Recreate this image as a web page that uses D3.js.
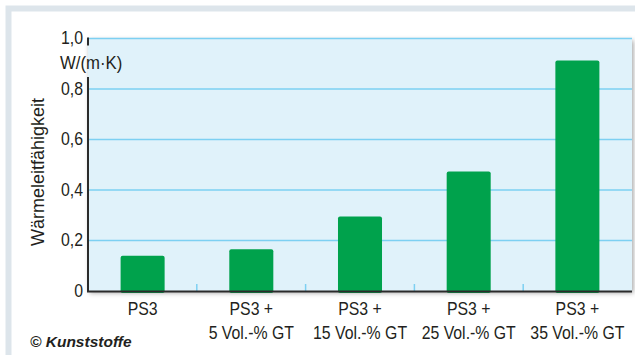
<!DOCTYPE html>
<html>
<head>
<meta charset="utf-8">
<script src="https://cdn.jsdelivr.net/npm/d3@7"></script>
<style>
  html, body { margin: 0; padding: 0; background: #fff; }
  svg { display: block; }
  text { font-family: "Liberation Sans", sans-serif; fill: #231f20; }
</style>
</head>
<body>
<svg id="chart" width="635" height="355"></svg>
<script>
// Thermal conductivity of PS3 with increasing filler content
const categories = [
  ["PS3"],
  ["PS3 +", "5 Vol.-% GT"],
  ["PS3 +", "15 Vol.-% GT"],
  ["PS3 +", "25 Vol.-% GT"],
  ["PS3 +", "35 Vol.-% GT"]
];
const values = [0.14, 0.165, 0.295, 0.473, 0.913];
const yTicks = [0, 0.2, 0.4, 0.6, 0.8, 1.0];
const yTickLabels = ["0", "0,2", "0,4", "0,6", "0,8", "1,0"];
const yUnit = "W/(m·K)";
const yTitle = "Wärmeleitfähigkeit";
const credit = "© Kunststoffe";

const svg = d3.select("#chart");
const W = 635, H = 355;
const plot = { left: 88, right: 632, top: 38.5, bottom: 291 };
const narrow = 0.88; // horizontal squeeze for a condensed look

// soft shadow around the plot panel
const defs = svg.append("defs");
const f = defs.append("filter").attr("id", "shadow")
  .attr("x", "-5%").attr("y", "-10%").attr("width", "110%").attr("height", "120%");
f.append("feDropShadow").attr("dx", 1.5).attr("dy", 2).attr("stdDeviation", 2.5)
  .attr("flood-color", "#000").attr("flood-opacity", 0.35);

// page frame
svg.append("rect").attr("width", W).attr("height", H).attr("fill", "#fff");
svg.append("rect").attr("x", 8.5).attr("y", 8.5).attr("width", W + 20).attr("height", H + 20)
  .attr("fill", "none").attr("stroke", "#dde5eb").attr("stroke-width", 6);

const x = d3.scaleBand()
  .domain(d3.range(categories.length))
  .range([plot.left, plot.right])
  .paddingInner(0.595)
  .paddingOuter(0.3);

const y = d3.scaleLinear().domain([0, 1]).range([plot.bottom, plot.top]);

// panel
svg.append("rect")
  .attr("x", plot.left).attr("y", plot.top)
  .attr("width", plot.right - plot.left).attr("height", plot.bottom - plot.top)
  .attr("fill", "#e0f2fa").attr("filter", "url(#shadow)");

// gridlines
svg.append("g").selectAll("line").data(yTicks.filter(d => d > 0)).join("line")
  .attr("x1", plot.left).attr("x2", plot.right)
  .attr("y1", d => y(d)).attr("y2", d => y(d))
  .attr("stroke", "#7dd0f2").attr("stroke-width", 1.5);

// category separators on the baseline
const sep = i => plot.left + i * (plot.right - plot.left) / categories.length;
svg.append("g").selectAll("line").data(d3.range(1, categories.length)).join("line")
  .attr("x1", sep).attr("x2", sep)
  .attr("y1", plot.bottom - 7).attr("y2", plot.bottom)
  .attr("stroke", "#7dd0f2").attr("stroke-width", 1.5);

// bars
svg.append("g").selectAll("rect").data(values).join("rect")
  .attr("x", (d, i) => x(i))
  .attr("y", d => y(d))
  .attr("width", x.bandwidth())
  .attr("height", d => y(0) - y(d) + 2)
  .attr("rx", 2)
  .attr("fill", "#00a24c");

// baseline
svg.append("line")
  .attr("x1", plot.left - 1).attr("x2", plot.right)
  .attr("y1", plot.bottom + 0.5).attr("y2", plot.bottom + 0.5)
  .attr("stroke", "#2b2b2b").attr("stroke-width", 2.2);

// y axis tick labels
const yAxis = d3.axisLeft(y)
  .tickValues(yTicks)
  .tickFormat((d, i) => yTickLabels[i])
  .tickSize(0).tickPadding(0);
const ga = svg.append("g").attr("transform", `translate(${plot.left - 5},0)`).call(yAxis);
ga.select(".domain").remove();
ga.selectAll(".tick").attr("transform", d => `translate(0,${y(d)}) scale(${narrow},1)`);
ga.selectAll("text").attr("x", 0).style("font-size", "18px")
  .style("font-family", '"Liberation Sans", sans-serif').attr("fill", "#231f20");

// axis line, interrupted behind the unit label
svg.append("line")
  .attr("x1", plot.left).attr("x2", plot.left)
  .attr("y1", y(1) - 1).attr("y2", y(1) + 7)
  .attr("stroke", "#2b2b2b").attr("stroke-width", 2);
svg.append("line")
  .attr("x1", plot.left).attr("x2", plot.left)
  .attr("y1", y(0.8) - 12).attr("y2", plot.bottom + 1)
  .attr("stroke", "#2b2b2b").attr("stroke-width", 2);

// unit
svg.append("text").attr("transform", `translate(60,69) scale(0.93,1)`)
  .style("font-size", "18px").text(yUnit);

// axis title
svg.append("text")
  .attr("transform", `translate(44,172) rotate(-90)`)
  .attr("text-anchor", "middle")
  .style("font-size", "18px").text(yTitle);

// category labels
const cl = svg.append("g").selectAll("text").data(categories).join("text")
  .attr("text-anchor", "middle")
  .attr("transform", (d, i) => `translate(${x(i) + x.bandwidth() / 2},315) scale(${narrow},1)`)
  .style("font-size", "18px");
cl.selectAll("tspan").data(d => d).join("tspan")
  .attr("x", 0)
  .attr("y", (d, j) => j * 24.5)
  .text(d => d);

// credit
svg.append("text").attr("x", 30).attr("y", 347)
  .style("font-size", "15.5px").style("font-weight", "bold").style("font-style", "italic")
  .text(credit);
</script>
</body>
</html>
